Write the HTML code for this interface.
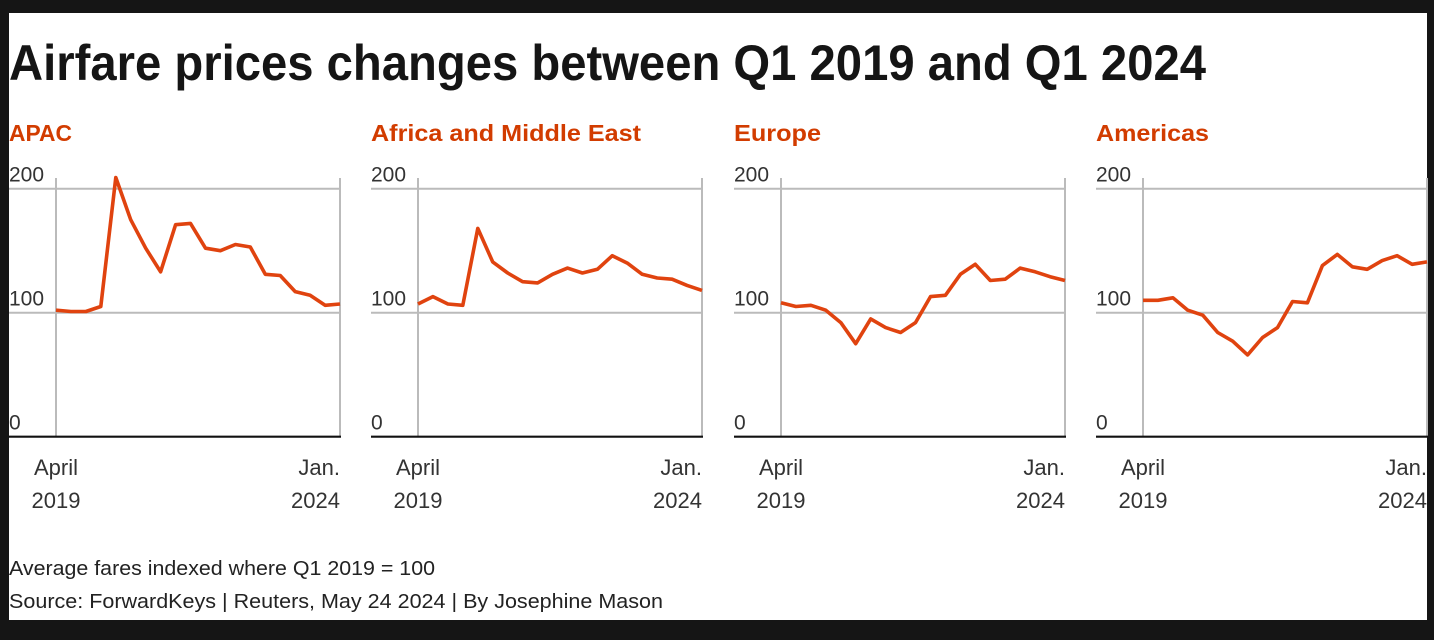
<!DOCTYPE html>
<html><head><meta charset="utf-8"><style>
html,body{margin:0;padding:0;background:#151515;}
svg{display:block;font-family:"Liberation Sans",sans-serif;}
</style></head><body>
<svg id="chart" width="1434" height="640" xmlns="http://www.w3.org/2000/svg">
<rect x="0" y="0" width="1434" height="640" fill="#151515"/>
<rect x="9" y="13" width="1418" height="607" fill="#ffffff"/>
<text x="9" y="80" font-size="50" font-weight="bold" fill="#151515" textLength="1197" lengthAdjust="spacingAndGlyphs">Airfare prices changes between Q1 2019 and Q1 2024</text>
<text x="9" y="575" font-size="20" fill="#222" textLength="426" lengthAdjust="spacingAndGlyphs">Average fares indexed where Q1 2019 = 100</text>
<text x="9" y="608" font-size="20" fill="#222" textLength="654" lengthAdjust="spacingAndGlyphs">Source: ForwardKeys | Reuters, May 24 2024 | By Josephine Mason</text>
<g id="panels"></g>
</svg>
<script>
const regions = ["APAC", "Africa and Middle East", "Europe", "Americas"];
const titleWidths = [63, 270, 87, 113];
const yTicks = [0, 100, 200];
const xLabelsStart = ["April", "2019"];
const xLabelsEnd = ["Jan.", "2024"];
const apac = [102, 101, 101, 105, 209, 175, 152, 133, 171, 172, 152, 150, 155, 153, 131, 130, 117, 114, 106, 107];
const africaMiddleEast = [107, 113, 107, 106, 168, 141, 132, 125, 124, 131, 136, 132, 135, 146, 140, 131, 128, 127, 122, 118];
const europe = [108, 105, 106, 102, 92, 75, 95, 88, 84, 92, 113, 114, 131, 139, 126, 127, 136, 133, 129, 126];
const americas = [110, 110, 112, 102, 98, 84, 77, 66, 80, 88, 109, 108, 138, 147, 137, 135, 142, 146, 139, 141];
const seriesList = [apac, africaMiddleEast, europe, americas];

const NS = "http://www.w3.org/2000/svg";
const root = document.getElementById("panels");
const plotLefts = [56, 418, 781, 1143];
const plotW = 284, yBase = 436.7, yTop200 = 188.7;
function yScale(v){ return yBase - (v/200)*(yBase - yTop200); }
function xScale(i, n, left){ return left + i*(plotW/(n-1)); }
function mk(tag, attrs){ const e = document.createElementNS(NS, tag); for (const k in attrs) e.setAttribute(k, attrs[k]); return e; }

regions.forEach((name, p) => {
  const L = plotLefts[p], R = L + plotW, labelX = L - 47;
  const g = mk("g", {});
  
  
  root.appendChild(g);
  const t = mk("text", {x: labelX, y: 141, "font-size": 23, "font-weight": "bold", fill: "#d23c00", textLength: titleWidths[p], lengthAdjust: "spacingAndGlyphs"});
  t.textContent = name;
  
  
  g.appendChild(t);
  // vertical gridlines
  [L, R].forEach(x => {
    const v = mk("line", {x1: x, x2: x, y1: 178, y2: yBase, stroke: "#bbb", "stroke-width": 2});
    
    
    g.appendChild(v);
  });
  yTicks.forEach(tv => {
    const y = yScale(tv);
    if (tv > 0) {
      const h = mk("line", {x1: labelX, x2: R, y1: y, y2: y, stroke: "#bbb", "stroke-width": 2});
      
      
      g.appendChild(h);
    }
    const lt = mk("text", {x: labelX, y: y - 7, "font-size": 21, fill: "#333"});
    lt.textContent = String(tv);
    
    
    g.appendChild(lt);
  });
  const base = mk("line", {x1: labelX, x2: R + 1, y1: yBase, y2: yBase, stroke: "#111", "stroke-width": 2.2});
  
  
  g.appendChild(base);
  const data = seriesList[p];
  const pts = data.map((v, i) => xScale(i, data.length, L).toFixed(1) + "," + yScale(v).toFixed(1)).join(" ");
  const line = mk("polyline", {points: pts, fill: "none", stroke: "#e0430f", "stroke-width": 3.6, "stroke-linejoin": "round"});
  
  
  g.appendChild(line);
  [0, 1].forEach(r => {
    const a = mk("text", {x: L, y: 475 + r*33, "font-size": 22, fill: "#333", "text-anchor": "middle"});
    a.textContent = xLabelsStart[r];
    
    
    g.appendChild(a);
    const b = mk("text", {x: R, y: 475 + r*33, "font-size": 22, fill: "#333", "text-anchor": "end"});
    b.textContent = xLabelsEnd[r];
    
    
    g.appendChild(b);
  });
});
</script>
</body></html>
